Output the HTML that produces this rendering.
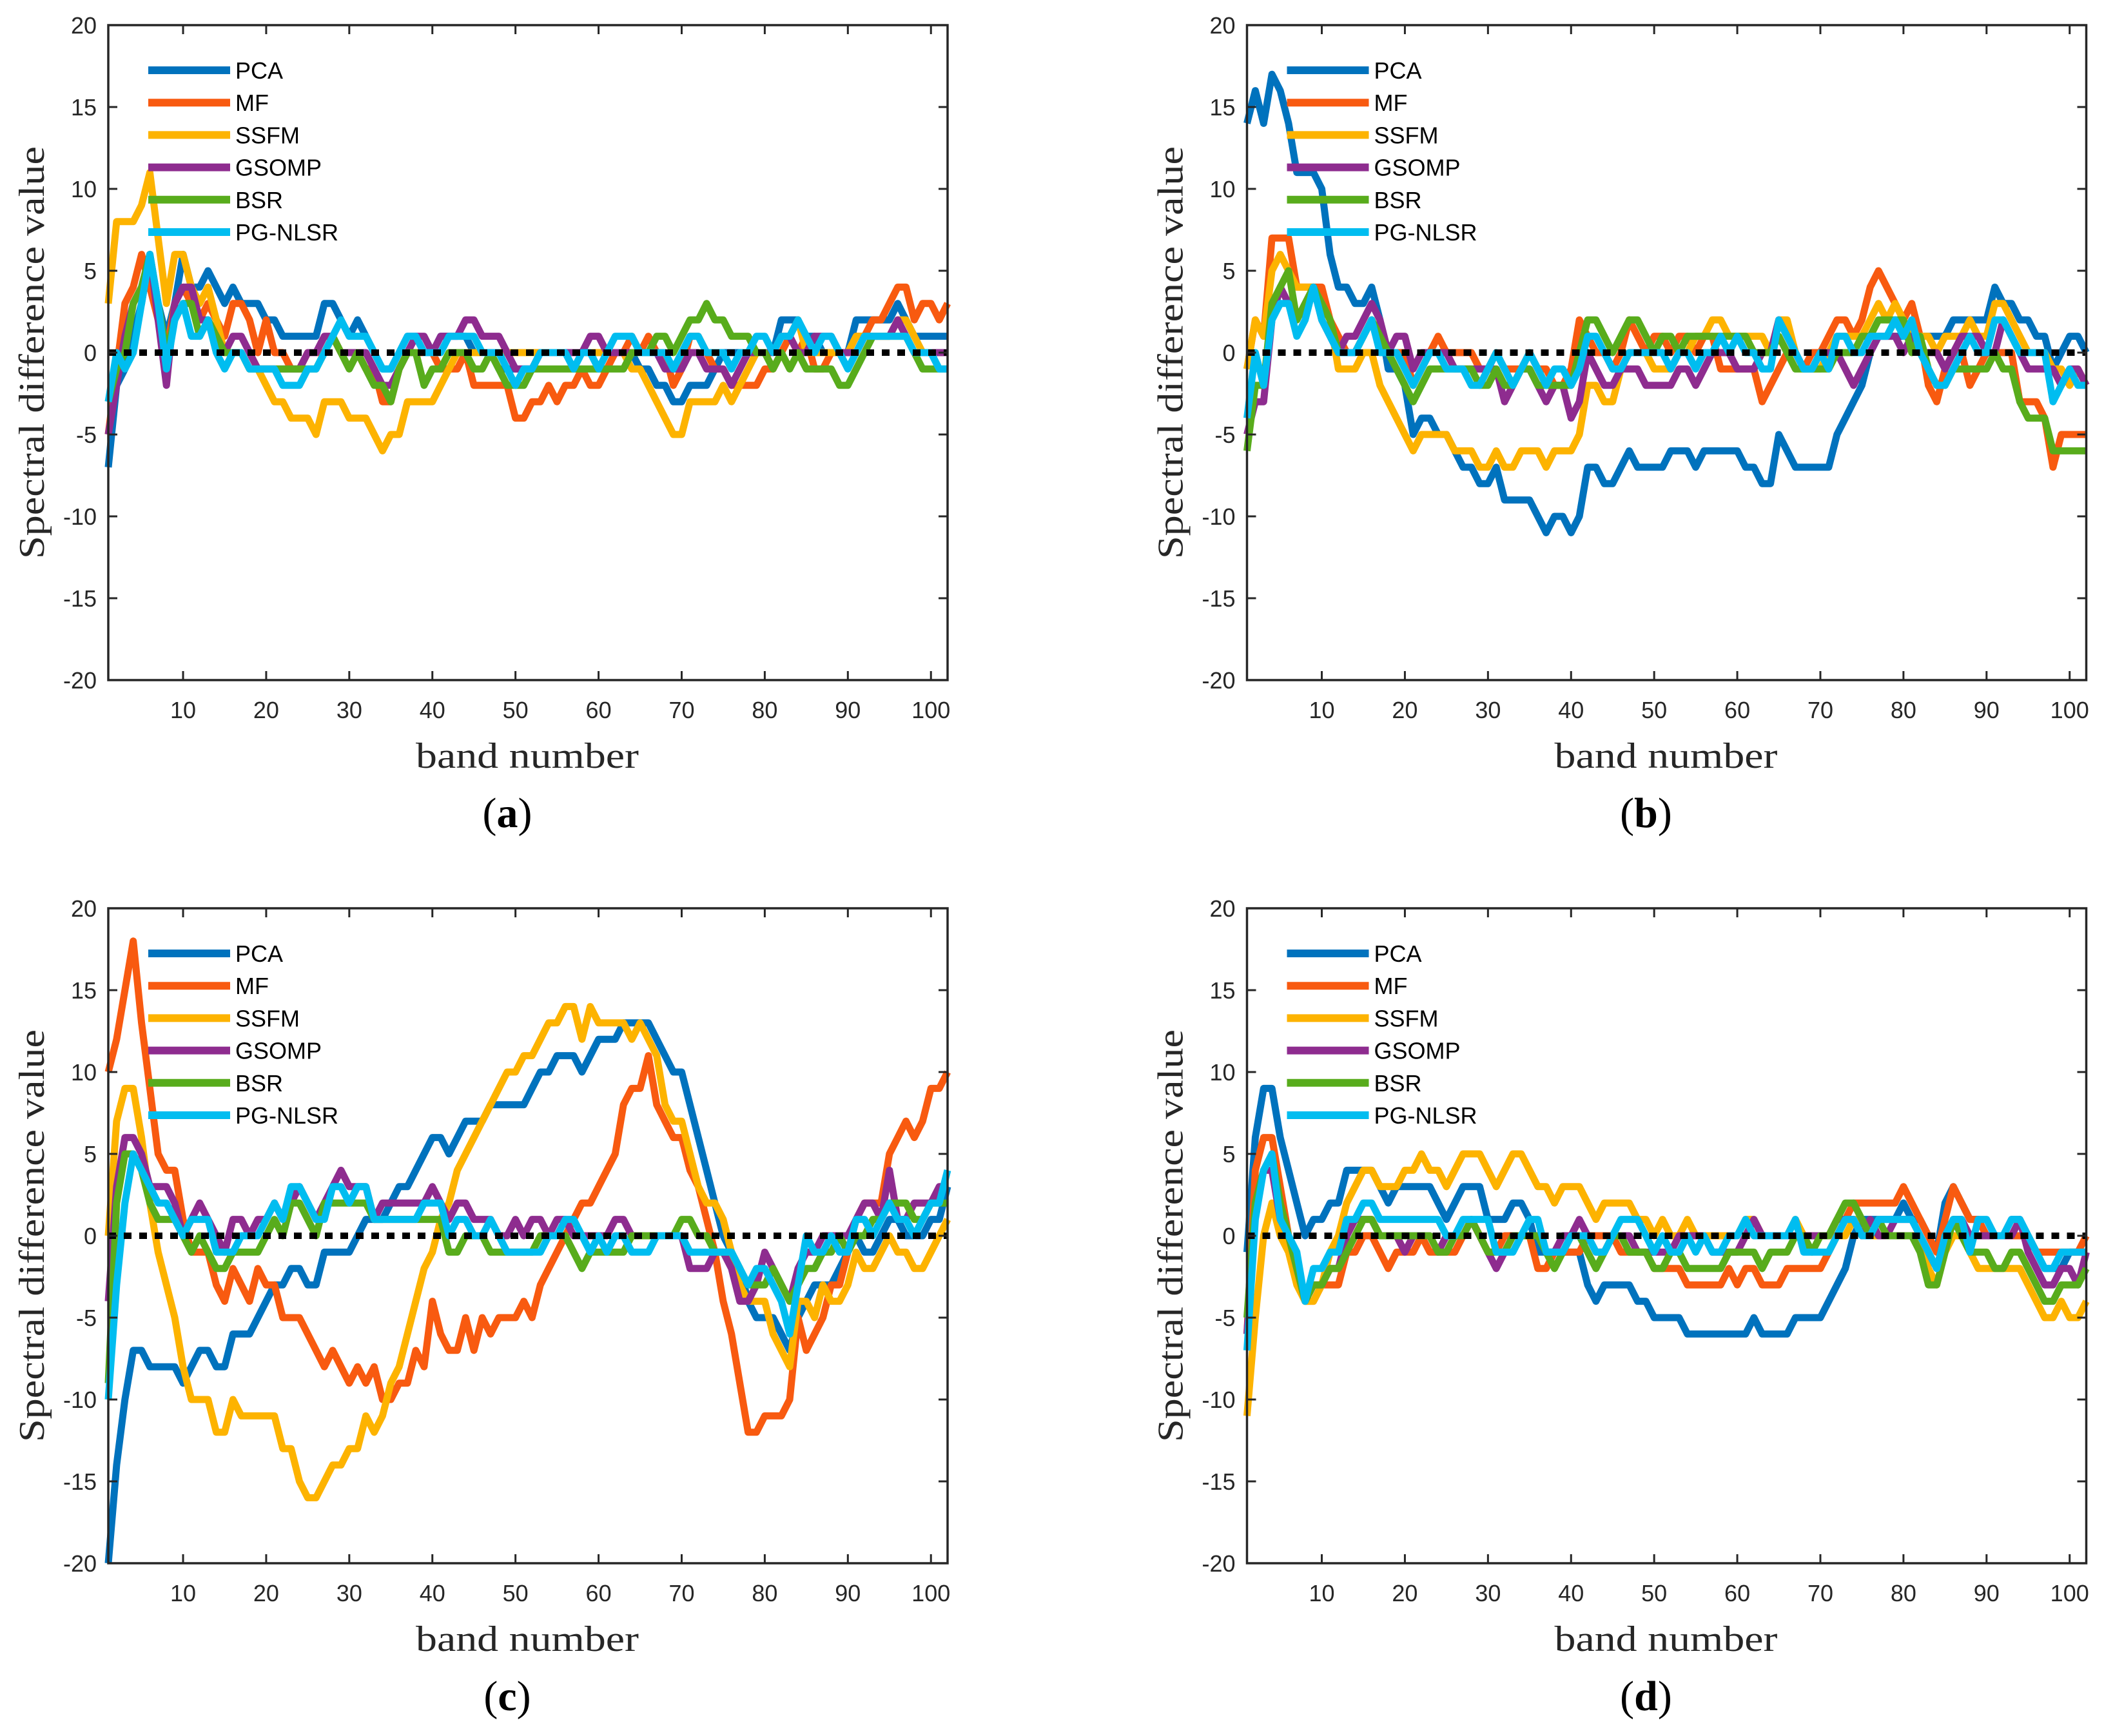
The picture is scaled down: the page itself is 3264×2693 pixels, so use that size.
<!DOCTYPE html>
<html><head><meta charset="utf-8">
<style>
html,body{margin:0;padding:0;background:#fff;}
svg{display:block;}
.tick{font-family:"Liberation Sans",sans-serif;font-size:36px;fill:#262626;}
.leg{font-family:"Liberation Sans",sans-serif;font-size:36px;fill:#000;}
.lab{font-family:"Liberation Serif",serif;font-size:56px;fill:#262626;}
.cap{font-family:"Liberation Serif",serif;font-size:66px;fill:#000;}
</style></head>
<body>
<svg id="fig" width="3264" height="2693" viewBox="0 0 3264 2693" xmlns="http://www.w3.org/2000/svg"></svg>
<script>
const seriesNames = ["PCA","MF","SSFM","GSOMP","BSR","PG-NLSR"];
const xTicks = [10,20,30,40,50,60,70,80,90,100];
const yTicks = [-20,-15,-10,-5,0,5,10,15,20];
const panelLabels = ["(a)","(b)","(c)","(d)"];

const aPCA=[-7,-2,-1,1,3,6,3,1,3,6, 4,4,5,4,3,4,3,3,3,2, 2,1,1,1,1,1,3,3,2,1, 2,1,0,-1,-1,0,1,1,0,0, 1,1,1,1,0,0,0,-1,-1,-1, -1,-1,0,0,0,0,0,0,0,0, 0,0,0,0,-1,-1,-2,-2,-3,-3, -2,-2,-2,-1,0,0,0,0,0,0, 0,2,2,2,1,1,0,0,0,0, 2,2,2,2,2,3,2,1,1,1,1,1];
const aMF=[-5,-1,3,4,6,4,2,0,3,4, 3,2,3,2,1,3,3,2,0,2, 0,0,-1,-1,0,0,0,1,0,0, 0,-1,-1,-3,-3,-1,0,0,0,0, -1,-1,-1,0,-2,-2,-2,-2,-2,-4, -4,-3,-3,-2,-3,-2,-2,-1,-2,-2, -1,0,0,1,0,1,0,0,-2,-1, 1,1,0,-1,-1,-2,-2,-2,-2,-1, -1,0,1,0,1,-1,-1,0,0,0, 1,1,2,2,3,4,4,2,3,3,2,3];
const aSSFM=[3,8,8,8,9,11,7,3,6,6, 4,3,4,2,0,0,0,-1,-1,-2, -3,-3,-4,-4,-4,-5,-3,-3,-3,-4, -4,-4,-5,-6,-5,-5,-3,-3,-3,-3, -2,-1,0,0,0,0,0,0,0,0, 0,0,0,0,0,0,0,0,0,0, 0,0,0,-1,-1,-2,-3,-4,-5,-5, -3,-3,-3,-3,-2,-3,-2,-1,0,0, 0,1,1,2,0,0,0,0,0,0, 1,1,1,1,1,2,2,1,0,0,0,0];
const aGSOMP=[-5,-2,1,3,4,6,2,-2,3,4, 4,2,2,1,0,1,1,0,-1,-1, -1,-1,-1,-1,0,0,1,1,0,0, 0,0,-1,-2,-2,-1,0,1,1,0, 1,1,1,2,2,1,1,1,0,-1, -1,-1,0,0,0,0,0,0,1,1, 0,0,0,0,0,0,0,-1,-1,-1, 0,0,-1,-1,-1,-2,-1,0,0,0, 0,1,1,0,0,1,1,1,0,0, 0,1,1,1,1,2,1,0,0,0,0,0];
const aBSR=[-3,-1,0,3,4,6,3,0,2,3, 3,1,2,1,0,0,0,-1,-1,-1, -1,-1,-1,-1,-1,-1,0,1,0,-1, 0,-1,-2,-2,-3,-1,0,0,-2,-1, -1,0,0,0,-1,-1,0,-1,-2,-2, -2,-1,-1,-1,-1,-1,-1,-1,-1,-1, -1,-1,-1,0,0,0,1,1,0,1, 2,2,3,2,2,1,1,1,0,0, -1,0,-1,0,-1,-1,-1,-1,-2,-2, -1,0,1,1,1,1,1,0,-1,-1,-1,-1];
const aPGNLSR=[-3,0,-1,0,3,6,3,-1,2,3, 1,1,2,0,-1,0,0,-1,-1,-1, -1,-2,-2,-2,-1,-1,0,1,2,1, 1,1,0,-1,-1,0,1,1,0,0, 0,1,1,1,1,0,0,0,-1,-2, -1,-1,0,0,0,0,-1,0,0,-1, 0,1,1,1,0,0,0,0,-1,0, 1,1,0,0,0,-1,0,0,1,1, 0,1,1,2,1,0,1,1,0,-1, 0,1,1,1,1,1,1,0,0,0,-1,-1];

const bPCA=[14,16,14,17,16,14,11,11,11,10, 6,4,4,3,3,4,2,-1,-1,-2, -5,-4,-4,-5,-5,-6,-7,-7,-8,-8, -7,-9,-9,-9,-9,-10,-11,-10,-10,-11, -10,-7,-7,-8,-8,-7,-6,-7,-7,-7, -7,-6,-6,-6,-7,-6,-6,-6,-6,-6, -7,-7,-8,-8,-5,-6,-7,-7,-7,-7, -7,-5,-4,-3,-2,0,1,1,1,1, 1,1,1,1,1,2,2,2,2,2, 4,3,3,2,2,1,1,-1,0,1,1,0];
const bMF=[-1,2,1,7,7,7,4,4,4,4, 2,1,0,0,1,2,1,0,0,0, -2,-1,0,1,0,0,0,0,-1,-1, 0,-1,-1,-1,0,-1,-1,-2,-2,-1, 2,1,0,0,-1,0,2,1,0,1, 1,0,1,1,0,1,1,-1,-1,-1, -1,-1,-3,-2,-1,0,0,-1,0,0, 1,2,2,1,2,4,5,4,3,2, 3,1,-2,-3,-1,0,0,-2,-1,0, 0,0,0,-3,-3,-3,-4,-7,-5,-5,-5,-5];
const bSSFM=[-1,2,1,5,6,5,4,4,4,3, 2,-1,-1,-1,0,0,-2,-3,-4,-5, -6,-5,-5,-5,-5,-6,-6,-6,-7,-7, -6,-7,-7,-6,-6,-6,-7,-6,-6,-6, -5,-2,-2,-3,-3,-1,0,0,0,-1, -1,-1,0,0,1,1,2,2,1,1, 1,1,1,0,2,2,0,-1,-1,-1, 0,1,1,1,1,2,3,2,3,2, 1,1,1,0,1,1,1,2,1,1, 3,3,2,1,0,0,0,-1,-1,-2,-1,-2];
const bGSOMP=[-5,-3,-3,2,4,3,2,3,4,2, 1,0,1,1,2,3,2,0,1,1, -1,0,0,0,0,-1,-1,-1,-1,-1, -1,-3,-2,-1,-1,-2,-3,-2,-2,-4, -3,0,-1,-2,-2,-1,-1,-1,-2,-2, -2,-2,-1,-1,-2,-1,0,0,0,-1, -1,-1,0,0,2,1,0,-1,-1,0, 0,0,-1,-2,-1,0,1,1,1,0, 1,0,0,0,-1,0,1,1,1,0, 0,2,1,0,-1,-1,-1,-1,-2,-1,-1,-2];
const bBSR=[-6,-2,-2,3,4,5,2,3,4,3, 2,0,0,0,1,2,1,0,-1,-2, -3,-2,-1,-1,-1,-1,-1,-1,-2,-2, -1,-2,-2,-1,-1,-2,-2,-2,-2,-2, 0,2,2,1,0,1,2,2,1,0, 1,1,0,1,1,1,1,1,1,1, 1,0,0,0,1,0,-1,-1,-1,-1, -1,0,0,0,1,1,2,2,2,2, 0,1,-1,-2,-2,-1,-1,-1,-1,-1, 0,-1,-1,-3,-4,-4,-4,-6,-6,-6,-6,-6];
const bPGNLSR=[-4,0,-2,2,3,3,1,2,4,2, 1,0,0,0,1,2,0,0,0,-1, -2,-1,0,0,-1,-1,-1,-2,-2,-1, 0,-1,-2,-1,0,-1,-2,-1,-1,-2, -1,1,1,0,-1,-1,0,0,0,0, 0,-1,0,0,-1,0,0,1,0,1, 0,0,-1,-1,2,1,0,-1,-1,0, -1,1,1,0,0,1,1,1,2,1, 2,0,-1,-2,-2,-1,0,1,0,0, 2,2,1,0,0,0,0,-3,-2,-1,-2,-2];

const cPCA=[-20,-14,-10,-7,-7,-8,-8,-8,-8,-9, -8,-7,-7,-8,-8,-6,-6,-6,-5,-4, -3,-3,-2,-2,-3,-3,-1,-1,-1,-1, 0,1,1,1,2,3,3,4,5,6, 6,5,6,7,7,7,8,8,8,8, 8,9,10,10,11,11,11,10,11,12, 12,12,13,13,13,13,12,11,10,10, 8,6,4,2,0,-1,-2,-4,-5,-5, -5,-6,-7,-5,-4,-3,-3,-3,-2,-1, 0,-1,-1,0,1,1,0,0,0,1,1,3];
const cMF=[10,12,15,18,13,9,5,4,4,1, -1,-1,-1,-3,-4,-2,-3,-4,-2,-3, -3,-5,-5,-5,-6,-7,-8,-7,-8,-9, -8,-9,-8,-10,-10,-9,-9,-7,-8,-4, -6,-7,-7,-5,-7,-5,-6,-5,-5,-5, -4,-5,-3,-2,-1,0,1,2,2,3, 4,5,8,9,9,11,8,7,6,6, 4,3,1,-1,-4,-6,-9,-12,-12,-11, -11,-11,-10,-5,-7,-6,-5,-3,-3,-1, 1,2,2,2,5,6,7,6,7,9,9,10];
const cSSFM=[0,7,9,9,6,2,-1,-3,-5,-8, -10,-10,-10,-12,-12,-10,-11,-11,-11,-11, -11,-13,-13,-15,-16,-16,-15,-14,-14,-13, -13,-11,-12,-11,-9,-8,-6,-4,-2,-1, 1,2,4,5,6,7,8,9,10,10, 11,11,12,13,13,14,14,12,14,13, 13,13,13,12,13,12,11,8,7,7, 5,3,2,2,1,-1,-3,-4,-4,-4, -6,-7,-8,-4,-4,-5,-3,-4,-4,-3, -1,-2,-2,-1,0,-1,-1,-2,-2,-1,0,1];
const cGSOMP=[-4,3,6,6,5,3,3,3,2,0, 1,2,1,0,-1,1,1,0,1,1, 2,1,2,3,2,1,2,3,4,3, 3,3,1,2,2,2,2,2,2,3, 2,1,2,2,1,1,1,0,0,1, 0,1,1,0,1,1,0,0,0,0, 0,1,1,0,0,0,0,0,0,0, -2,-2,-2,-1,-1,-2,-4,-4,-3,-1, -2,-3,-4,-2,-1,-1,0,0,0,0, 1,2,2,1,4,1,1,2,2,2,3,3];
const cBSR=[-9,2,5,5,4,2,1,1,1,0, -1,0,-1,-2,-2,-1,-1,-1,-1,0, 1,0,2,2,1,0,2,2,2,2, 2,2,1,1,1,1,1,1,1,1, 1,-1,-1,0,0,0,-1,-1,-1,-1, -1,-1,0,0,0,0,-1,-2,-1,-1, -1,-1,-1,0,0,0,0,0,0,1, 1,0,0,-1,-1,-1,-2,-3,-3,-3, -2,-3,-4,-3,-2,-2,-1,-1,0,-1, 0,0,1,1,2,2,2,1,1,2,2,2];
const cPGNLSR=[-10,-3,2,5,4,3,2,2,1,0, 1,1,1,-1,-1,-1,0,0,0,1, 2,1,3,3,2,1,1,3,3,2, 3,3,1,1,1,1,1,1,2,2, 2,0,1,1,0,0,1,0,-1,-1, -1,-1,-1,0,0,1,1,0,-1,0, -1,0,0,-1,-1,-1,0,0,0,0, -1,-1,-1,-1,-1,-1,-2,-3,-2,-2, -3,-4,-6,-3,0,-1,-1,0,-1,-1, 1,1,0,1,2,1,1,0,1,2,2,4];

const dPCA=[-1,6,9,9,6,4,2,0,1,1, 2,2,4,4,4,4,3,2,3,3, 3,3,3,2,1,2,3,3,3,1, 1,1,2,2,1,-1,-1,-1,-1,-1, -1,-3,-4,-3,-3,-3,-3,-4,-4,-5, -5,-5,-5,-6,-6,-6,-6,-6,-6,-6, -6,-5,-6,-6,-6,-6,-5,-5,-5,-5, -4,-3,-2,0,1,1,1,1,1,2, 1,1,0,-1,2,3,2,1,1,0, 0,0,1,1,0,-1,-2,-2,-2,-1,-1,-1];
const dMF=[-6,4,6,6,3,0,-2,-4,-4,-3, -3,-3,-1,-1,0,0,-1,-2,-1,-1, -1,0,-1,-1,-1,-1,0,1,0,-1, -1,0,0,0,0,-2,-2,-1,-1,-1, -1,0,0,0,0,-1,-1,-1,-1,-2, -2,-2,-2,-3,-3,-3,-3,-3,-2,-3, -2,-2,-3,-3,-3,-2,-2,-2,-2,-2, -1,0,1,2,2,2,2,2,2,3, 2,1,0,-1,1,3,2,1,1,0, 0,0,0,0,0,-1,-1,-1,-1,-1,-1,0];
const dSSFM=[-11,-5,0,2,0,-1,-3,-4,-4,-3, -1,0,2,3,4,4,3,3,3,4, 4,5,4,4,3,4,5,5,5,4, 3,4,5,5,4,3,3,2,3,3, 3,2,1,2,2,2,2,1,1,0, 1,0,0,1,0,0,0,0,0,0, 1,1,0,0,0,0,1,0,0,0, 0,0,0,1,1,0,0,0,0,0, 0,0,-2,-3,-1,0,0,-1,-2,-2, -2,-2,-2,-2,-3,-4,-5,-5,-4,-5,-5,-4];
const dGSOMP=[-6,2,4,4,1,0,-2,-4,-3,-3, -2,-2,0,1,1,1,0,0,0,-1, 0,0,0,-1,0,0,0,1,0,-1, -2,-1,0,0,0,0,-1,-1,0,0, 1,0,-1,-1,0,0,0,-1,-1,-1, -1,-1,0,0,0,0,-1,-1,-1,-1, 0,1,0,0,0,0,0,0,0,0, 0,1,1,1,0,1,0,0,1,1, 1,0,-1,-2,0,1,1,0,0,0, 0,0,0,1,-1,-2,-3,-3,-2,-2,-3,-1];
const dBSR=[-5,2,4,5,2,0,-2,-4,-3,-3, -2,-2,-1,0,1,1,0,0,0,0, 0,0,0,-1,-1,0,0,1,0,-1, -1,-1,0,0,0,0,-1,-2,-1,0, 0,-1,-2,-1,0,0,-1,-1,-1,-2, -2,-1,-1,-2,-2,-2,-2,-2,-1,-1, -1,-1,-2,-1,-1,-1,0,0,-1,0, 0,1,2,2,1,0,1,0,0,0, 0,-1,-3,-3,-1,1,0,-1,-1,-1, -2,-2,-1,-1,-2,-3,-4,-4,-3,-3,-3,-2];
const dPGNLSR=[-7,1,4,5,1,0,-1,-4,-2,-2, -1,-1,1,1,2,2,1,1,1,1, 1,1,1,1,0,0,1,1,1,1, -1,-1,-1,0,1,1,-1,-1,-1,0, 0,0,-1,-1,0,1,1,1,0,-1, 0,-1,-1,0,-1,0,-1,-1,0,0, 1,0,0,0,0,0,1,-1,-1,-1, -1,0,1,1,0,0,1,1,1,1, 1,0,-1,-2,0,1,1,-1,1,1, 0,0,1,1,0,-1,-2,-2,-1,-1,-1,-1];

const panelData = [
  [aPCA,aMF,aSSFM,aGSOMP,aBSR,aPGNLSR],
  [bPCA,bMF,bSSFM,bGSOMP,bBSR,bPGNLSR],
  [cPCA,cMF,cSSFM,cGSOMP,cBSR,cPGNLSR],
  [dPCA,dMF,dSSFM,dGSOMP,dBSR,dPGNLSR]
];
const colors = ["#0072BD","#F85A10","#FDB300","#8E2C8F","#58AC1C","#00BDF0"];
const NS = "http://www.w3.org/2000/svg";
const svg = document.getElementById("fig");
const PW = 1302, PH = 1016;
const origins = [[168,39],[1934.5,39],[168,1409],[1934.5,1409]];

function mk(tag, attrs, parent){
  const e = document.createElementNS(NS, tag);
  for (const k in attrs) e.setAttribute(k, attrs[k]);
  parent.appendChild(e);
  return e;
}

panelData.forEach((series, p) => {
  const [L, T] = origins[p];
  const xs = b => L + (b - 1) / 101 * PW;
  const ys = v => T + (20 - v) / 40 * PH;
  const g = mk("g", {}, svg);
  
  

  series.forEach((vals, si) => {
    const d = vals.map((v, i) => (i ? "L" : "M") + xs(i + 1).toFixed(1) + " " + ys(v).toFixed(1)).join(" ");
    const path = mk("path", {d: d, fill: "none", stroke: colors[si], "stroke-width": 11, "stroke-linejoin": "round"}, g);
    
    
  });
  const z = mk("line", {x1: xs(1), x2: xs(102), y1: ys(0), y2: ys(0), stroke: "#000", "stroke-width": 10, "stroke-dasharray": "12 12"}, g);
  
  

  const box = mk("rect", {x: L, y: T, width: PW, height: PH, fill: "none", stroke: "#262626", "stroke-width": 3.5}, g);
  
  

  xTicks.forEach(t => {
    const x = xs(t);
    mk("line", {x1: x, x2: x, y1: T + PH, y2: T + PH - 14, stroke: "#262626", "stroke-width": 3}, g);
    mk("line", {x1: x, x2: x, y1: T, y2: T + 14, stroke: "#262626", "stroke-width": 3}, g);
    const tx = mk("text", {x: x, y: T + PH + 59, "text-anchor": "middle", class: "tick"}, g);
    tx.textContent = t;
    
    
  });
  yTicks.forEach(t => {
    const y = ys(t);
    mk("line", {x1: L, x2: L + 14, y1: y, y2: y, stroke: "#262626", "stroke-width": 3}, g);
    mk("line", {x1: L + PW, x2: L + PW - 14, y1: y, y2: y, stroke: "#262626", "stroke-width": 3}, g);
    const ty = mk("text", {x: L - 18, y: y + 13, "text-anchor": "end", class: "tick"}, g);
    ty.textContent = t;
    
    
  });

  const lg = mk("g", {}, g);
  
  
  seriesNames.forEach((n, si) => {
    const y = T + 70 + si * 50.2;
    const ln = mk("line", {x1: L + 62, x2: L + 189, y1: y, y2: y, stroke: colors[si], "stroke-width": 12}, lg);
    
    
    const tx = mk("text", {x: L + 197, y: y + 13, class: "leg"}, lg);
    tx.textContent = n;
    
    
  });

  const xl = mk("text", {x: L + PW / 2 - 1, y: T + PH + 136, "text-anchor": "middle", class: "lab", textLength: 346, lengthAdjust: "spacingAndGlyphs"}, g);
  xl.textContent = "band number";
  
  
  const cx = L - 118, cy = T + PH / 2;
  const yl = mk("text", {x: cx, y: cy + 18, "text-anchor": "middle", class: "lab", textLength: 640, lengthAdjust: "spacingAndGlyphs", transform: "rotate(-90 " + cx + " " + cy + ")"}, g);
  yl.textContent = "Spectral difference value";
  
  

  const cap = mk("text", {x: L + PW / 2 - 32, y: T + PH + 228, "text-anchor": "middle", class: "cap"}, g);
  cap.innerHTML = '(<tspan font-weight="bold">' + "abcd"[p] + '</tspan>)';
  
  
});
</script>
</body></html>
